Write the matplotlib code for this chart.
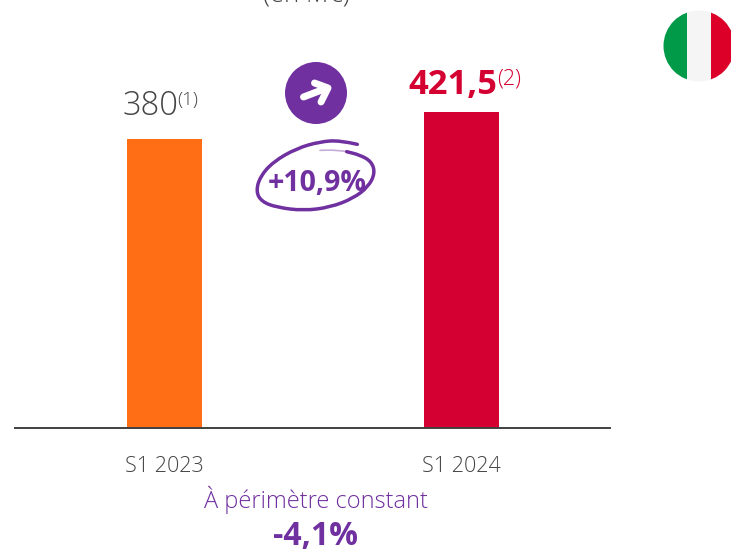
import numpy as np
import matplotlib
matplotlib.use('Agg')
import matplotlib.pyplot as plt
from matplotlib.patches import Circle, PathPatch, Rectangle
from matplotlib.path import Path

plt.rcParams['font.family'] = ['Open Sans', 'DejaVu Sans']

W, H = 731, 551
GREY = '#454545'
PURPLE = '#7030A0'

# donnees
categories = ['S1 2023', 'S1 2024']
bar_heights = [380, 415.5]  # hauteurs
bar_colors = ['#FF6D14', '#D50032']
value_labels = ['380', '421,5']
value_notes = ['(1)', '(2)']
evolution = '+10,9%'
constant_label = 'À périmètre constant'
constant_value = '-4,1%'
unit_label = '(en M€)'

fig = plt.figure(figsize=(W / 100, H / 100), dpi=100)

# axe principal : la ligne de base est a y=428 px
ax = fig.add_axes([15 / W, (H - 428) / H, 595 / W, 428 / H])
ax.bar(range(2), bar_heights, width=0.2525, color=bar_colors)
ax.set_xlim(-0.5034, 1.5)
ax.set_ylim(0, 562.8)
ax.set_xticks(range(2))
ax.set_xticklabels(categories, fontsize=15.5, color=GREY, fontweight=300)
ax.tick_params(axis='x', length=0, pad=20)
ax.set_yticks([])
for s in ['top', 'left', 'right']:
    ax.spines[s].set_visible(False)
ax.spines['bottom'].set_color('#404040')
ax.spines['bottom'].set_linewidth(1.4)
ax.patch.set_visible(False)

# calque en pixels pour les decorations
ov = fig.add_axes([0, 0, 1, 1])
ov.set_xlim(0, W)
ov.set_ylim(H, 0)
ov.axis('off')

# drapeau italien
flag = Circle((699, 46), 35.5, transform=ov.transData)
for x0, w, c in [(660, 27, '#009A49'), (687, 24, '#F5F5F5'), (711, 30, '#DC0028')]:
    r = Rectangle((x0, 5), w, 85, color=c, lw=0)
    ov.add_patch(r)
    r.set_clip_path(flag)

# pastille + fleche
ov.add_patch(Circle((316, 93), 31, color=PURPLE, lw=0))
ov.plot([303.5, 327], [97, 88], color='white', lw=5, solid_capstyle='round')
ov.plot([314.5, 328, 321], [83, 88, 102], color='white', lw=5,
        solid_capstyle='round', solid_joinstyle='round')


def scribble(points, **kw):
    pts = np.array(points, dtype=float) / 3 + [240, 0]
    verts = [pts[0]]
    codes = [Path.MOVETO]
    for i in range(1, len(pts) - 1):
        verts += [pts[i], (pts[i] + pts[i + 1]) / 2]
        codes += [Path.CURVE3, Path.CURVE3]
    verts += [pts[-1]]
    codes += [Path.LINETO]
    ov.add_patch(PathPatch(Path(verts, codes), fill=False, edgecolor=PURPLE,
                           capstyle='round', **kw))


scribble([(352, 433), (300, 421), (240, 425), (170, 445), (100, 485), (60, 530),
          (48, 575), (65, 605), (110, 622), (190, 632), (270, 622), (340, 595),
          (385, 560), (405, 520), (395, 485), (360, 465), (320, 455)], lw=2.5)
scribble([(320, 455), (290, 450), (240, 451)], lw=1.2, alpha=0.4)

# textes
ov.text(306, 2, unit_label, fontsize=18.5, color=GREY, fontweight=300, ha='center', va='baseline')
ov.text(123, 115, value_labels[0], fontsize=23.5, color=GREY, fontweight=300, va='baseline')
ov.text(177, 105, value_notes[0], fontsize=13.5, color=GREY, fontweight=300, va='baseline')
ov.text(408, 94, value_labels[1], fontsize=24.8, color=bar_colors[1], fontweight='bold', va='baseline')
ov.text(497, 85, value_notes[1], fontsize=15.5, color=bar_colors[1], va='baseline', fontweight=300)
ov.text(317, 191, evolution, fontsize=20.5, color=PURPLE, fontweight='bold', ha='center', va='baseline')
ov.text(316, 508, constant_label, fontsize=17, color=PURPLE, fontweight=300, ha='center', va='baseline')
ov.text(316, 545, constant_value, fontsize=23, color=PURPLE, fontweight='bold', ha='center', va='baseline')

fig.savefig('out.png', dpi=100)
